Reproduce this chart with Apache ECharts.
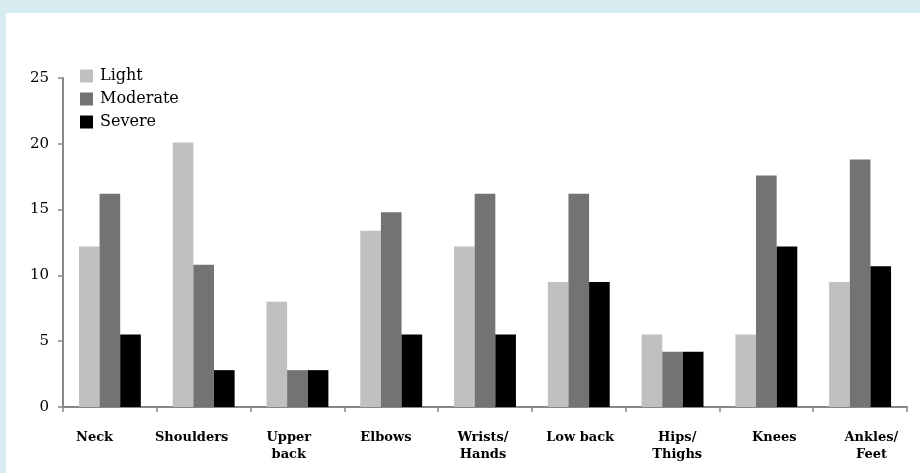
<!DOCTYPE html>
<html><head><meta charset="utf-8">
<script src="https://cdn.jsdelivr.net/npm/echarts@6/dist/echarts.min.js"></script>
<style>
html,body{margin:0;padding:0;background:#fff;}
#c{position:absolute;left:0;top:0;width:920px;height:473px;}
.b1{position:absolute;left:0;top:0;width:920px;height:13px;background:#d7ecf1;}
.b2{position:absolute;left:0;top:0;width:6px;height:473px;background:#d7ecf1;}
</style></head>
<body>
<div id="c"></div><div class="b1"></div><div class="b2"></div>
<script>
const categories = ["Neck","Shoulders","Upper\nback","Elbows","Wrists/\nHands","Low back","Hips/\nThighs","Knees","Ankles/\nFeet"];
const light    = [12.2, 20.1, 8.0, 13.4, 12.2, 9.5, 5.5, 5.5, 9.5];
const moderate = [16.2, 10.8, 2.8, 14.8, 16.2, 16.2, 4.2, 17.6, 18.8];
const severe   = [5.5, 2.8, 2.8, 5.5, 5.5, 9.5, 4.2, 12.2, 10.7];
const yTicks = [0,5,10,15,20,25];

const serif = '"DejaVu Serif", serif';
const chart = echarts.init(document.getElementById('c'));
chart.setOption({
  animation:false,
  backgroundColor:'#fff',
  legend:{
    left:75, top:63, orient:'vertical', itemWidth:13, itemHeight:13, itemGap:7,
    icon:'rect',
    textStyle:{fontFamily:serif, fontSize:16, color:'#000', padding:[0,0,0,2]},
    data:['Light','Moderate','Severe']
  },
  grid:[
    {left:63, right:13, top:78, bottom:66},
    {left:46, right:0, top:78, bottom:66}
  ],
  xAxis:[
    {type:'category', gridIndex:0, data:categories,
     axisLine:{lineStyle:{color:'#888', width:2}},
     axisTick:{show:true, length:5, lineStyle:{color:'#888', width:1.5}},
     axisLabel:{show:false}},
    {type:'category', gridIndex:1, data:categories,
     axisLine:{show:false}, axisTick:{show:false},
     axisLabel:{margin:22, fontFamily:serif, fontWeight:'bold', fontSize:13, color:'#000', lineHeight:17, interval:0}}
  ],
  yAxis:[
    {type:'value', gridIndex:0, min:0, max:25, interval:5,
     axisLine:{show:true, lineStyle:{color:'#888', width:2}},
     axisTick:{show:true, length:5, lineStyle:{color:'#888', width:1.5}},
     splitLine:{show:false},
     axisLabel:{margin:14, fontFamily:serif, fontSize:15, color:'#000',
       formatter:v=> yTicks.includes(v)? String(v):''}},
    {type:'value', gridIndex:1, min:0, max:25, show:false}
  ],
  series:[
    {name:'Light', type:'bar', data:light, xAxisIndex:0, yAxisIndex:0, barGap:'0%', barCategoryGap:'34%', itemStyle:{color:'#c0c0c0'}},
    {name:'Moderate', type:'bar', data:moderate, xAxisIndex:0, yAxisIndex:0, barGap:'0%', barCategoryGap:'34%', itemStyle:{color:'#737373'}},
    {name:'Severe', type:'bar', data:severe, xAxisIndex:0, yAxisIndex:0, barGap:'0%', barCategoryGap:'34%', itemStyle:{color:'#000'}}
  ]
});
</script>
</body></html>
